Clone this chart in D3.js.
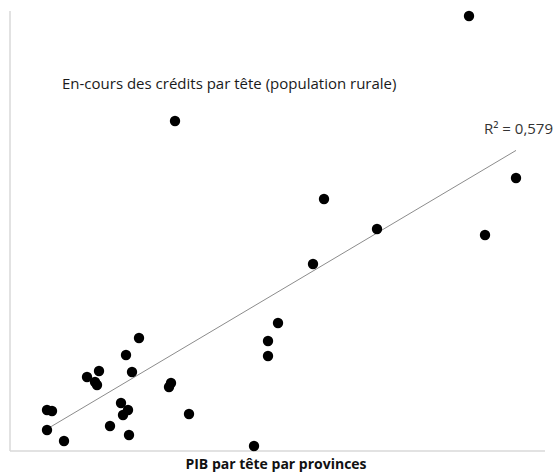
<!DOCTYPE html>
<html lang="fr">

<head>
  <meta charset="UTF-8">
  <title>En-cours des crédits par tête vs PIB par tête</title>
  <script src="https://d3js.org/d3.v7.min.js"></script>
  <style>
    body {
      margin: 0;
      background: #ffffff;
      font-family: "Open Sans", "Noto Sans", sans-serif;
    }

    .axis-line {
      stroke: #d9d9d9;
      stroke-width: 1.5;
    }

    .dot {
      fill: #000000;
    }

    .trend {
      stroke: #8c8c8c;
      stroke-width: 1;
    }
  </style>
</head>

<body>
  <div id="chart"></div>
  <script>
    // PIB par tête (x) et en-cours des crédits par tête (y)
    const pibParTete = [7.4, 8.4, 7.4, 10.8, 25.8, 23.2, 17.8, 15.4, 17.0, 17.4,
      24.4, 32.2, 31.8, 22.2, 23.6, 22.6, 20.0, 23.8, 35.8, 48.8,
      53.6, 51.6, 51.6, 33.0, 91.8, 101.2, 95.0, 73.4, 62.8, 60.6];
    const creditsParTete = [4.1, 4.0, 2.1, 1.0, 11.3, 9.6, 8.0, 7.4, 6.9, 6.6,
      7.9, 6.8, 6.4, 4.8, 4.1, 3.6, 2.5, 1.6, 3.7, 0.5,
      12.8, 11.0, 9.5, 33.0, 43.5, 27.3, 21.6, 22.2, 25.2, 18.7];

    // droite de tendance (y = a x + b) et son R²
    const trendSlope = 0.297;
    const trendIntercept = 0.0;
    const r2Label = "R² = 0,579";

    const titleText = "En-cours des crédits par tête (population rurale)";
    const xLabel = "PIB par tête par provinces";

    const width = 554, height = 475;
    const plot = {left: 10, right: 545, top: 11, bottom: 451};

    const points = pibParTete.map((v, i) => ({x: v, y: creditsParTete[i]}));

    const svg = d3.select("#chart")
      .append("svg")
      .attr("width", width)
      .attr("height", height);

    const x = d3.scaleLinear()
      .domain([0, 107])
      .range([plot.left, plot.right]);

    const y = d3.scaleLinear()
      .domain([0, 44])
      .range([plot.bottom, plot.top]);

    // axes sans graduations
    svg.append("line")
      .attr("class", "axis-line")
      .attr("x1", x(0)).attr("x2", x(0))
      .attr("y1", y(44)).attr("y2", y(0));

    svg.append("line")
      .attr("class", "axis-line")
      .attr("x1", x(0)).attr("x2", x(107))
      .attr("y1", y(0)).attr("y2", y(0));

    // tendance
    const xExt = d3.extent(pibParTete);
    svg.append("line")
      .attr("class", "trend")
      .attr("x1", x(xExt[0]))
      .attr("y1", y(trendSlope * xExt[0] + trendIntercept))
      .attr("x2", x(xExt[1]))
      .attr("y2", y(trendSlope * xExt[1] + trendIntercept));

    svg.selectAll(".dot")
      .data(points)
      .enter().append("circle")
      .attr("class", "dot")
      .attr("cx", d => x(d.x))
      .attr("cy", d => y(d.y))
      .attr("r", 5.2);

    svg.append("text")
      .attr("x", 62)
      .attr("y", 89)
      .attr("fill", "#1a1a1a")
      .style("font-size", "15px")
      .text(titleText);

    svg.append("text")
      .attr("x", 553)
      .attr("y", 134)
      .attr("text-anchor", "end")
      .attr("fill", "#333333")
      .style("font-size", "15px")
      .text(r2Label);

    svg.append("text")
      .attr("x", 276)
      .attr("y", 469)
      .attr("text-anchor", "middle")
      .attr("fill", "#111111")
      .style("font-size", "14px")
      .style("font-weight", "bold")
      .text(xLabel);
  </script>
</body>

</html>
